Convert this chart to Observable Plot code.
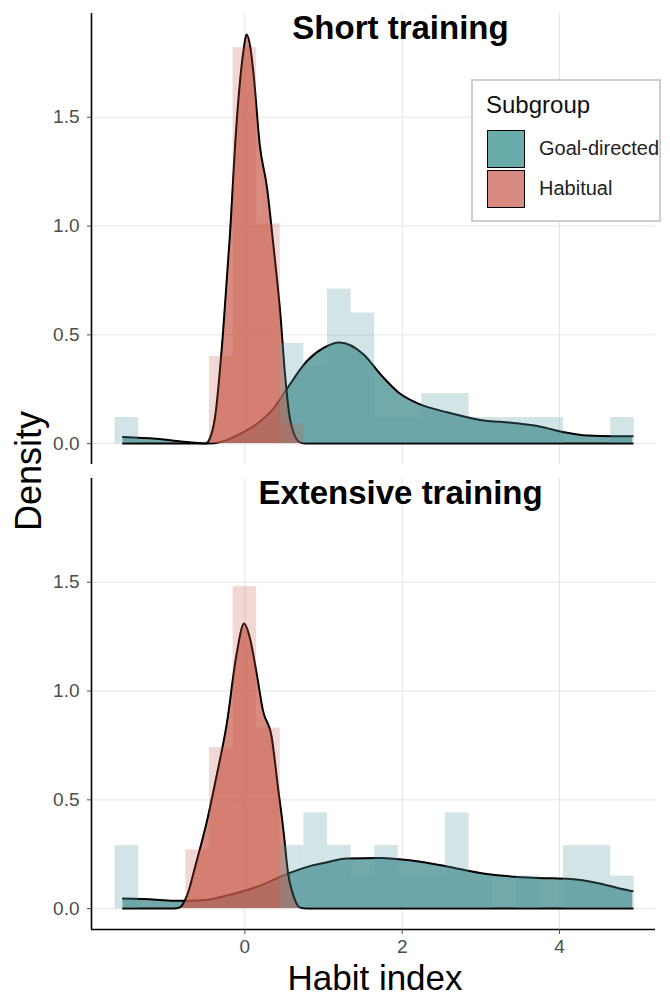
<!DOCTYPE html>
<html>
<head>
<meta charset="utf-8">
<script src="https://cdn.jsdelivr.net/npm/d3@7"></script>
<script src="https://cdn.jsdelivr.net/npm/@observablehq/plot@0.6"></script>
<style>
  html, body { margin: 0; padding: 0; background: #fff; }
  body { font-family: "Liberation Sans", Arial, Helvetica, sans-serif; }
  #wrap { position: relative; width: 670px; height: 998px; overflow: hidden; }
  #wrap svg { position: absolute; left: 0; top: 0; }
  .lbl { position: absolute; white-space: nowrap; line-height: 1; color: #000; }
  #legend { position: absolute; left: 471px; top: 79px; width: 190px; height: 143px;
            box-sizing: border-box; border: 2px solid #cdcdcd; background: #fff; }
  #legend .t { position: absolute; left: 13px; top: 12px; font-size: 24px; line-height: 1; color: #111; }
  #legend .key { position: absolute; left: 14px; width: 38px; height: 38px; box-sizing: border-box; border: 1.6px solid #000; }
  #legend .kl { position: absolute; left: 66px; font-size: 20px; line-height: 1; color: #222; white-space: nowrap; }
</style>
</head>
<body>
<div id="wrap"></div>
<script>
// ---------- data ----------
const panels = ["Short training", "Extensive training"];
const groups = ["Goal-directed", "Habitual"];
const groupColors = ["#5F9EA0", "#C95A4A"];
const legendSwatches = ["#6aacaa", "#d98a80"];
const binWidth = 0.3;
const xTicks = [0, 2, 4];
const yTicks = [0, 0.5, 1.0, 1.5];
const xDomain = [-1.95, 5.22];
const yDomain = [-0.096, 1.977];

// histogram bins (centres) and densities
const shortGoalBinCenters = [-1.5, 0.6, 0.9, 1.2, 1.5, 1.8, 2.1, 2.4, 2.7, 3.0, 3.3, 3.6, 3.9, 4.8];
const shortGoalBinHeights = [0.12, 0.46, 0.36, 0.71, 0.60, 0.12, 0.12, 0.23, 0.23, 0.12, 0.12, 0.12, 0.12, 0.12];
const shortHabitBinCenters = [-0.3, 0.0, 0.3, 0.6];
const shortHabitBinHeights = [0.40, 1.82, 1.01, 0.09];
const extGoalBinCenters = [-1.5, 0.6, 0.9, 1.2, 1.5, 1.8, 2.1, 2.4, 2.7, 3.0, 3.6, 4.2, 4.5, 4.8];
const extGoalBinHeights = [0.29, 0.29, 0.44, 0.29, 0.15, 0.29, 0.15, 0.15, 0.44, 0.15, 0.15, 0.29, 0.29, 0.15];
const extHabitBinCenters = [-0.6, -0.3, 0.0, 0.3];
const extHabitBinHeights = [0.27, 0.74, 1.48, 0.83];

// density curves
const shortGoalDensX = [-1.55, -1.13, -0.70, -0.49, -0.28, -0.06, 0.15, 0.36, 0.53, 0.79, 1.00, 1.20, 1.51, 1.72, 1.97, 2.23, 2.57, 2.99, 3.42, 3.76, 4.06, 4.35, 4.69, 4.93];
const shortGoalDensY = [0.030, 0.022, 0.006, 0.000, 0.010, 0.045, 0.090, 0.160, 0.250, 0.380, 0.440, 0.465, 0.410, 0.320, 0.230, 0.180, 0.144, 0.109, 0.095, 0.078, 0.052, 0.037, 0.034, 0.034];
const shortHabitDensX = [-1.55, -0.60, -0.50, -0.45, -0.38, -0.28, -0.19, -0.11, -0.02, 0.02, 0.07, 0.11, 0.19, 0.28, 0.36, 0.45, 0.51, 0.57, 0.62, 0.70, 0.78, 4.93];
const shortHabitDensY = [0, 0, 0.000, 0.020, 0.120, 0.500, 0.960, 1.450, 1.800, 1.880, 1.820, 1.700, 1.370, 1.180, 0.920, 0.600, 0.320, 0.120, 0.050, 0.006, 0, 0];
const extGoalDensX = [-1.55, -1.13, -0.87, -0.50, -0.28, 0.15, 0.57, 0.87, 1.00, 1.30, 1.72, 2.14, 2.57, 2.99, 3.29, 3.72, 4.14, 4.48, 4.74, 4.93];
const extGoalDensY = [0.046, 0.041, 0.036, 0.040, 0.056, 0.100, 0.164, 0.200, 0.210, 0.230, 0.233, 0.220, 0.194, 0.164, 0.151, 0.141, 0.136, 0.118, 0.095, 0.080];
const extHabitDensX = [-1.55, -0.90, -0.83, -0.74, -0.62, -0.49, -0.36, -0.23, -0.11, -0.01, 0.06, 0.15, 0.23, 0.34, 0.42, 0.49, 0.55, 0.62, 0.70, 0.80, 4.93];
const extHabitDensY = [0, 0, 0.005, 0.056, 0.210, 0.390, 0.610, 0.850, 1.160, 1.310, 1.250, 1.080, 0.910, 0.790, 0.560, 0.360, 0.160, 0.056, 0.005, 0, 0];

// ---------- tables ----------
const densRows = (panel, group, xs, ys) => xs.map((x, i) => ({panel, group, x, y: ys[i]}));
const binRows = (panel, group, cs, hs) => cs.map((c, i) => ({panel, group, x1: c - binWidth / 2, x2: c + binWidth / 2, y: hs[i]}));

const goalDens = [...densRows(panels[0], groups[0], shortGoalDensX, shortGoalDensY),
                  ...densRows(panels[1], groups[0], extGoalDensX, extGoalDensY)];
const habitDens = [...densRows(panels[0], groups[1], shortHabitDensX, shortHabitDensY),
                   ...densRows(panels[1], groups[1], extHabitDensX, extHabitDensY)];
const goalBins = [...binRows(panels[0], groups[0], shortGoalBinCenters, shortGoalBinHeights),
                  ...binRows(panels[1], groups[0], extGoalBinCenters, extGoalBinHeights)];
const habitBins = [...binRows(panels[0], groups[1], shortHabitBinCenters, shortHabitBinHeights),
                   ...binRows(panels[1], groups[1], extHabitBinCenters, extHabitBinHeights)];

const font = "'Liberation Sans', Arial, Helvetica, sans-serif";

const chart = Plot.plot({
  width: 670,
  height: 998,
  marginLeft: 91,
  marginRight: 15,
  marginTop: 12,
  marginBottom: 68,
  style: {fontFamily: font, background: "transparent"},
  x: {domain: xDomain},
  y: {domain: yDomain},
  fy: {domain: panels, paddingInner: 0.03, paddingOuter: 0, axis: null},
  marks: [
    Plot.gridX({ticks: xTicks, stroke: "#e4e4e4", strokeOpacity: 1, strokeWidth: 1}),
    Plot.gridY({ticks: yTicks, stroke: "#e4e4e4", strokeOpacity: 1, strokeWidth: 1}),
    Plot.areaY(goalDens, {x: "x", y: "y", fy: "panel", fill: groupColors[0], fillOpacity: 0.88, curve: "monotone-x"}),
    Plot.lineY(goalDens, {x: "x", y: "y", fy: "panel", stroke: "#000", strokeWidth: 2, curve: "monotone-x"}),
    Plot.areaY(habitDens, {x: "x", y: "y", fy: "panel", fill: groupColors[1], fillOpacity: 0.7, curve: "monotone-x"}),
    Plot.lineY(habitDens, {x: "x", y: "y", fy: "panel", stroke: "#000", strokeWidth: 2, curve: "monotone-x"}),
    Plot.rectY(goalBins, {x1: "x1", x2: "x2", y: "y", fy: "panel", fill: groupColors[0], fillOpacity: 0.28}),
    Plot.rectY(habitBins, {x1: "x1", x2: "x2", y: "y", fy: "panel", fill: groupColors[1], fillOpacity: 0.24}),
    Plot.ruleX([xDomain[0]], {stroke: "#000", strokeWidth: 1.6}),
    Plot.ruleY([{panel: panels[1], y: yDomain[0]}], {y: "y", fy: "panel", stroke: "#000", strokeWidth: 1.6}),
    Plot.axisY({ticks: yTicks, tickFormat: d3.format(".1f"), fontSize: 19, tickSize: 4, tickPadding: 8,
                color: "#4d4d4d", label: null}),
    Plot.axisX({ticks: xTicks, tickFormat: d3.format("d"), fontSize: 19, tickSize: 5, tickPadding: 5,
                color: "#4d4d4d", label: null}),
    Plot.text(panels, {fy: d => d, text: d => d, frameAnchor: "top", lineAnchor: "middle", dx: 27, dy: 14.5,
                       fontSize: 33, fontWeight: "bold", fill: "#000"})
  ]
});

const wrap = document.getElementById("wrap");
wrap.appendChild(chart);

// axis titles
const xt = document.createElement("div");
xt.className = "lbl";
xt.textContent = "Habit index";
xt.style.cssText = "left:375px;top:977px;font-size:35px;transform:translate(-50%,-50%);";
wrap.appendChild(xt);

const yt = document.createElement("div");
yt.className = "lbl";
yt.textContent = "Density";
yt.style.cssText = "left:29px;top:471px;font-size:36px;transform:translate(-50%,-50%) rotate(-90deg);";
wrap.appendChild(yt);

// legend
const lg = document.createElement("div");
lg.id = "legend";
const lt = document.createElement("div");
lt.className = "t";
lt.textContent = "Subgroup";
lg.appendChild(lt);
groups.forEach((g, i) => {
  const k = document.createElement("div");
  k.className = "key";
  k.style.top = (49 + i * 40) + "px";
  k.style.background = legendSwatches[i];
  lg.appendChild(k);
  const l = document.createElement("div");
  l.className = "kl";
  l.style.top = (57 + i * 40) + "px";
  l.textContent = g;
  lg.appendChild(l);
});
wrap.appendChild(lg);
</script>
</body>
</html>
